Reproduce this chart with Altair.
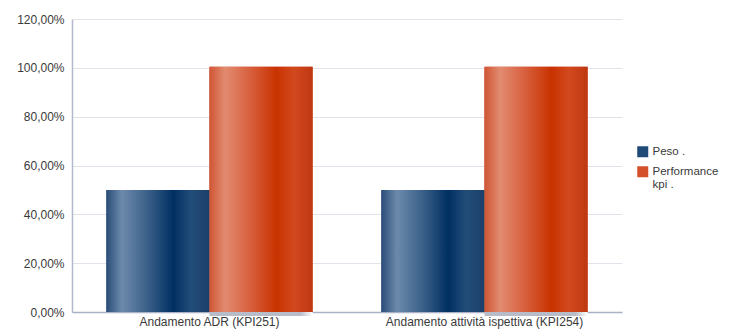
import altair as alt
import pandas as pd

categories = ["Andamento ADR (KPI251)", "Andamento attività ispettiva (KPI254)"]
series = ["Peso .", "Performance kpi ."]
peso = [50.0, 50.0]
performance = [100.4, 100.4]
y_ticks = [0, 20, 40, 60, 80, 100, 120]

rows = []
for c, p, f in zip(categories, peso, performance):
    rows.append({"cat": c, "serie": series[0], "val": p})
    rows.append({"cat": c, "serie": series[1], "val": f})
df = pd.DataFrame(rows)

FONT = "Liberation Sans"


def grad(stops):
    return alt.Gradient(
        gradient="linear", x1=0, x2=1, y1=0, y2=0,
        stops=[alt.GradientStop(offset=o, color=c) for o, c in stops],
    )


blue_grad = grad([
    (0.0, "#2a4d78"), (0.15, "#6d8aab"), (0.40, "#3a6089"),
    (0.65, "#002f62"), (0.82, "#224d79"), (1.0, "#1b3f69"),
])
orange_grad = grad([
    (0.0, "#cf5634"), (0.15, "#e28b70"), (0.40, "#d75e3c"),
    (0.65, "#c93200"), (0.82, "#d2491f"), (1.0, "#bf3711"),
])
shadow_grad = grad([
    (0.0, "#b8bcc8"), (0.88, "#b8bcc8"), (0.94, "#dcdee4"), (1.0, "#ffffff"),
])

x_enc = alt.X(
    "cat:N", sort=categories, title=None,
    scale=alt.Scale(paddingInner=0.25, paddingOuter=0.125),
    axis=alt.Axis(labelAngle=0, ticks=False, domainColor="#aab0c6",
                  domainWidth=1.5,
                  labelColor="#3a3a3a", labelFont=FONT, labelFontSize=12,
                  labelPadding=4, labelLimit=400, grid=False),
)
xo_enc = alt.XOffset("serie:N", sort=series,
                     scale=alt.Scale(domain=series, paddingInner=0, paddingOuter=0))
y_enc = alt.Y(
    "val:Q", title=None,
    scale=alt.Scale(domain=[0, 120], nice=False),
    axis=alt.Axis(values=y_ticks, ticks=False, domainColor="#b4b8cc",
                  domainWidth=1.5,
                  gridColor="#e2e2ea", labelColor="#3a3a3a", labelFont=FONT,
                  labelFontSize=12, labelPadding=8,
                  labelExpr="replace(format(datum.value, '.2f'), '.', ',') + '%'"),
)

base = alt.Chart(df).encode(x=x_enc, xOffset=xo_enc, y=y_enc)

shadow = base.transform_filter(alt.datum.serie == series[1]).mark_bar(
    fill=shadow_grad, xOffset=12, yOffset=4
)

flat = base.mark_bar().encode(
    color=alt.Color(
        "serie:N", sort=series,
        scale=alt.Scale(domain=series, range=["#1f4a78", "#d4502a"]),
        legend=alt.Legend(
            title=None, orient="none", legendX=565, legendY=127,
            symbolType="square", symbolSize=121, symbolStrokeWidth=0,
            labelFont=FONT, labelFontSize=11.5, labelColor="#3a3a3a",
            labelOffset=4, rowPadding=7, labelLimit=200,
            labelExpr="datum.label == 'Performance kpi .' ? ['Performance', 'kpi .'] : datum.label",
        ),
    )
)

blue = base.transform_filter(alt.datum.serie == series[0]).mark_bar(fill=blue_grad)
orange = base.transform_filter(alt.datum.serie == series[1]).mark_bar(fill=orange_grad)

chart = (
    alt.layer(shadow, flat, blue, orange)
    .properties(width=550, height=293, background="white",
                padding={"left": 64, "top": 11, "right": 99, "bottom": 20},
                autosize=alt.AutoSizeParams(type="none"))
    .configure_view(strokeWidth=0, stroke="transparent")
)

chart.save("out.html", embed_options={"renderer": "svg", "actions": False})
